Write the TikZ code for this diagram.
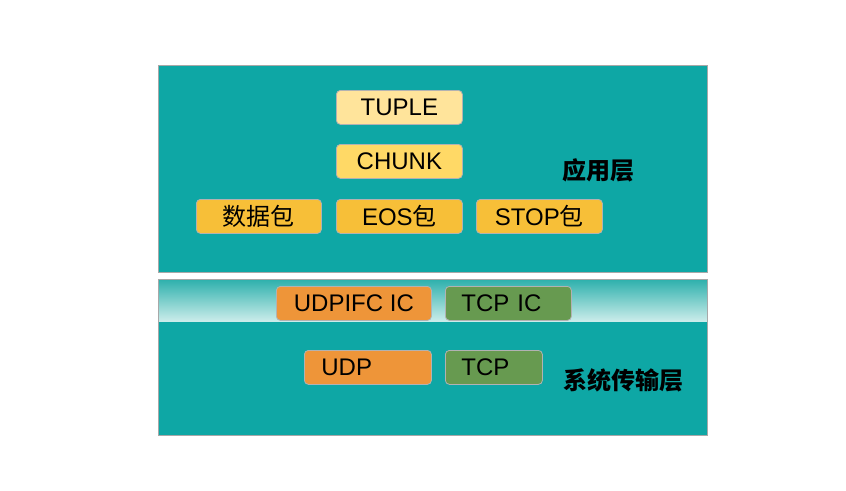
\documentclass[tikz,border=0pt]{standalone}
\usepackage{fontspec}
\setmainfont{Liberation Sans}
\newfontfamily\cjk{Noto Sans CJK SC}
\definecolor{teal1}{HTML}{0EA7A5}
\definecolor{bandtop}{HTML}{2DB0AC}
\definecolor{bandbot}{HTML}{CFEEEC}
\definecolor{frame}{HTML}{A8A8A8}
\definecolor{y1}{HTML}{FFE49B}
\definecolor{y2}{HTML}{FFD966}
\definecolor{y3}{HTML}{F7BF38}
\definecolor{or1}{HTML}{EE9539}
\definecolor{gr1}{HTML}{679A50}
\begin{document}
\begin{tikzpicture}[x=1pt,y=-1pt,
  box/.style={rounded corners=4pt, draw=black!30, line width=0.8pt, minimum height=34pt,
    inner sep=0pt, font=\fontsize{24}{28}\selectfont, anchor=north west},
  lbl/.style={font=\fontsize{24}{28}\selectfont\cjk\bfseries, inner sep=0pt}]
\useasboundingbox (0,0) rectangle (846,490);
\fill[white] (0,0) rectangle (846,490);
% top panel
\node[draw=frame, fill=teal1, line width=0.8pt, minimum width=549pt, minimum height=207pt, anchor=north west, inner sep=0pt] (app) at (158,65) {};
% band
\node[draw=none, top color=bandtop, bottom color=bandbot, minimum width=549pt, minimum height=43pt, anchor=north west, inner sep=0pt] (band) at (158,279) {};
% bottom panel
\node[fill=teal1, minimum width=549pt, minimum height=113pt, anchor=north west, inner sep=0pt] (sys) at (158,322) {};
\draw[frame, line width=0.8pt] (band.north west) rectangle (sys.south east);
% app boxes
\node[box, fill=y1, minimum width=126pt] (tuple) at (336,90) {TUPLE};
\node[box, fill=y2, minimum width=126pt] (chunk) at (336,144) {CHUNK};
\node[box, fill=y3, minimum width=125pt] (data) at (196,199) {\cjk 数据包};
\node[box, fill=y3, minimum width=126pt] (eos) at (336,199) {EOS{\cjk 包}};
\node[box, fill=y3, minimum width=126pt] (stop) at (476,199) {STOP{\cjk 包}};
\node[lbl] (applbl) at (598,170) {应用层};
% ic boxes
\node[box, fill=or1, minimum width=155pt] (udpic) at (276,286) {UDPIFC IC};
\node[box, fill=gr1, align=left, text width=94pt, inner xsep=16pt] (tcpic) at (445,286) {TCP IC};
\node[box, fill=or1, align=left, text width=93pt, inner xsep=17pt] (udp) at (304,350) {UDP};
\node[box, fill=gr1, align=left, text width=65pt, inner xsep=16pt] (tcp) at (445,350) {TCP};
\node[lbl] (syslbl) at (623,380) {系统传输层};
\end{tikzpicture}
\end{document}
